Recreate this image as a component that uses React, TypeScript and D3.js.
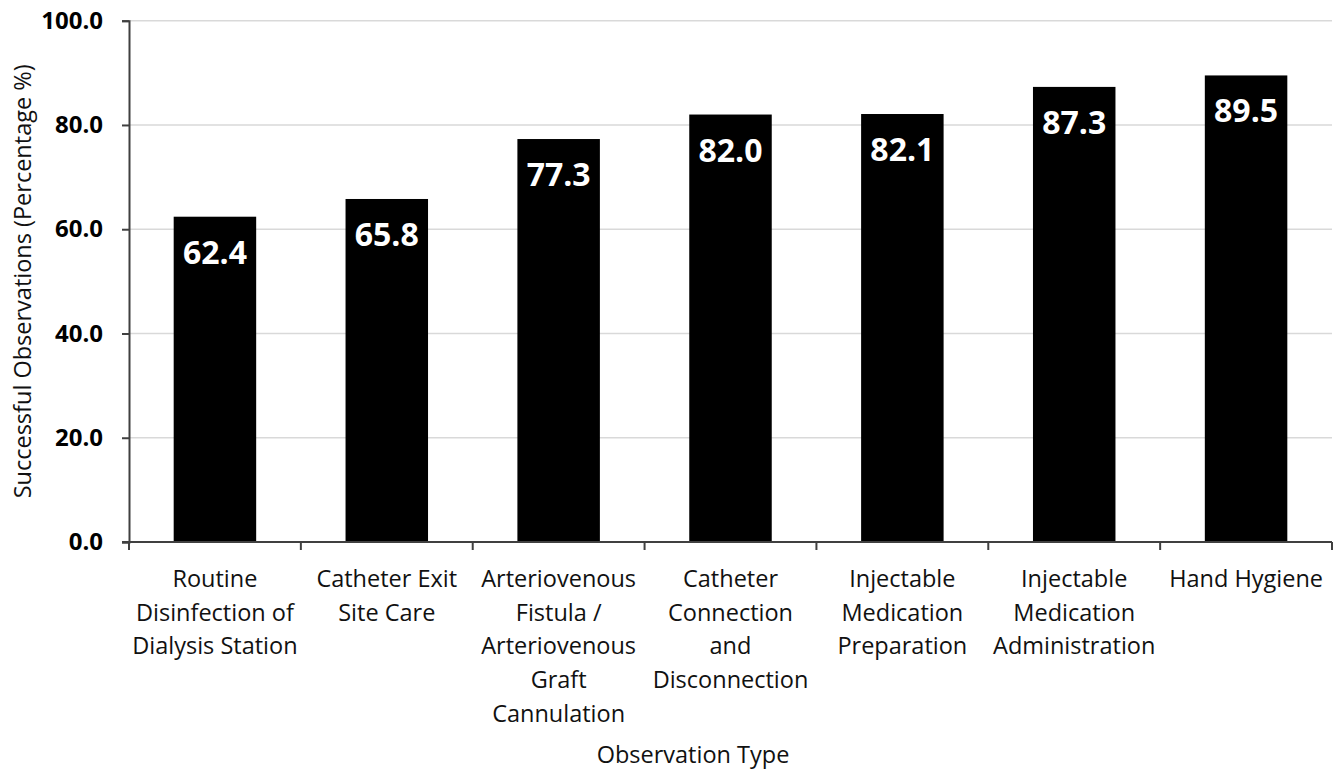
import React, { useRef, useEffect } from 'react';
import * as d3 from 'd3';

// observation categories, one entry per line of the wrapped label
const categories: string[][] = [
  ['Routine', 'Disinfection of', 'Dialysis Station'],
  ['Catheter Exit', 'Site Care'],
  ['Arteriovenous', 'Fistula /', 'Arteriovenous', 'Graft', 'Cannulation'],
  ['Catheter', 'Connection', 'and', 'Disconnection'],
  ['Injectable', 'Medication', 'Preparation'],
  ['Injectable', 'Medication', 'Administration'],
  ['Hand Hygiene'],
];
const values: number[] = [62.4, 65.8, 77.3, 82.0, 82.1, 87.3, 89.5];
const yTicks: number[] = [0, 20, 40, 60, 80, 100];

const W = 1342;
const H = 769;
const FONT = '"Open Sans", "DejaVu Sans", sans-serif';

export default function App() {
  const ref = useRef<SVGSVGElement | null>(null);

  useEffect(() => {
    if (!ref.current) return;
    const svg = d3.select(ref.current);
    svg.selectAll('*').remove();

    const left = 129, right = 1332, top = 20.7, bottom = 542;
    const keys = categories.map((_, i) => String(i));

    const x = d3.scaleBand<string>().domain(keys).range([left, right])
      .paddingInner(0.52).paddingOuter(0.26);
    const y = d3.scaleLinear().domain([0, 100]).range([bottom, top]);

    // gridlines
    svg.append('g').selectAll('line').data(yTicks.filter(t => t > 0)).join('line')
      .attr('x1', left).attr('x2', right)
      .attr('y1', d => y(d)).attr('y2', d => y(d))
      .attr('stroke', '#d9d9d9').attr('stroke-width', 1.5);

    // bars
    svg.append('g').selectAll('rect').data(values).join('rect')
      .attr('x', (_, i) => x(keys[i])!)
      .attr('y', d => y(d))
      .attr('width', x.bandwidth())
      .attr('height', d => bottom - y(d))
      .attr('fill', '#000');

    // value labels inside bars
    svg.append('g').selectAll('text').data(values).join('text')
      .attr('x', (_, i) => x(keys[i])! + x.bandwidth() / 2)
      .attr('y', d => y(d) + 47)
      .attr('text-anchor', 'middle')
      .attr('fill', '#fff')
      .attr('font-family', FONT)
      .attr('font-weight', 700)
      .attr('font-size', 32)
      .text(d => d.toFixed(1));

    // y axis
    const yAxis = svg.append('g')
      .attr('transform', `translate(${left},0)`)
      .call(d3.axisLeft(y).tickValues(yTicks).tickFormat(d3.format('.1f')).tickSize(7).tickPadding(19));
    yAxis.select('.domain').attr('stroke', '#404040').attr('stroke-width', 2);
    yAxis.selectAll('.tick line').attr('stroke', '#404040').attr('stroke-width', 2);
    yAxis.selectAll('.tick text')
      .attr('font-family', FONT).attr('font-weight', 700).attr('font-size', 24).attr('fill', '#000');

    // x axis with ticks at band edges
    const step = x.step();
    const edges = d3.range(categories.length + 1).map(i => left + i * step);
    svg.append('line')
      .attr('x1', left - 7).attr('x2', right).attr('y1', bottom).attr('y2', bottom)
      .attr('stroke', '#404040').attr('stroke-width', 2);
    svg.append('g').selectAll('line').data(edges).join('line')
      .attr('x1', d => d).attr('x2', d => d).attr('y1', bottom).attr('y2', bottom + 8)
      .attr('stroke', '#404040').attr('stroke-width', 2);

    // category labels
    const lab = svg.append('g').selectAll('text').data(categories).join('text')
      .attr('x', (_, i) => x(keys[i])! + x.bandwidth() / 2)
      .attr('y', 587)
      .attr('text-anchor', 'middle')
      .attr('font-family', FONT).attr('font-size', 23.5).attr('fill', '#111');
    lab.selectAll('tspan').data(d => d).join('tspan')
      .attr('x', function () { return (this.parentNode as SVGTextElement).getAttribute('x'); })
      .attr('dy', (_, i) => (i === 0 ? 0 : 33.7))
      .text(d => d);

    // axis titles
    svg.append('text')
      .attr('x', 693).attr('y', 763)
      .attr('text-anchor', 'middle')
      .attr('font-family', FONT).attr('font-size', 23.5).attr('fill', '#111')
      .text('Observation Type');

    svg.append('text')
      .attr('transform', `translate(31,${(top + bottom) / 2}) rotate(-90)`)
      .attr('text-anchor', 'middle')
      .attr('font-family', FONT).attr('font-size', 23.5).attr('fill', '#111')
      .text('Successful Observations (Percentage %)');
  }, []);

  return (
    <svg
      ref={ref}
      width={W}
      height={H}
      style={{ position: 'absolute', left: 0, top: 0, background: '#fff' }}
    />
  );
}
